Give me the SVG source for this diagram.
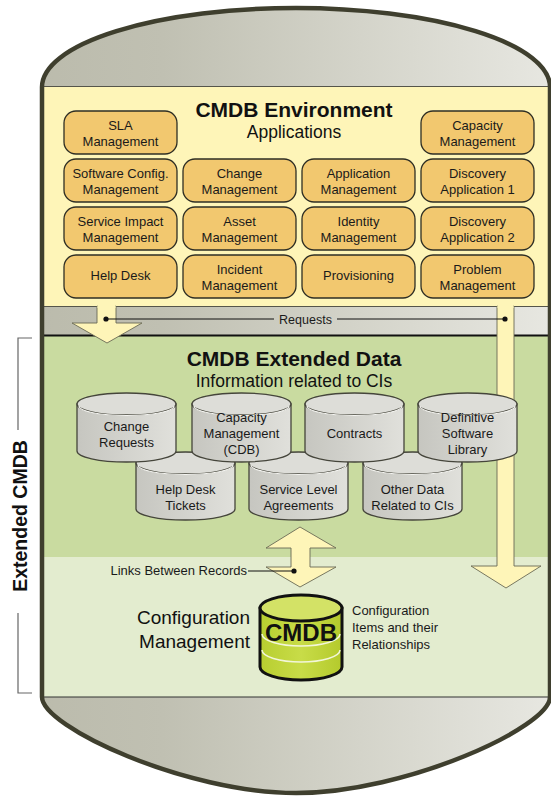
<svg xmlns="http://www.w3.org/2000/svg" width="551" height="796" viewBox="0 0 551 796">
<defs>
<linearGradient id="capg" x1="0" y1="0" x2="1" y2="0">
<stop offset="0" stop-color="#BBBBAC"/><stop offset="0.25" stop-color="#C0C0B2"/><stop offset="1" stop-color="#E8E8E2"/>
</linearGradient>
<linearGradient id="cylg" x1="0" y1="0" x2="1" y2="0">
<stop offset="0" stop-color="#C6C6C0"/><stop offset="1" stop-color="#E0E0DB"/>
</linearGradient>
<linearGradient id="cmdbg" x1="0" y1="0" x2="1" y2="0">
<stop offset="0" stop-color="#B8CE30"/><stop offset="0.5" stop-color="#C8DC48"/><stop offset="1" stop-color="#B4CA2C"/>
</linearGradient>
<clipPath id="outer">
<path d="M42,87 A254,79 0 0 1 550,87 L550,697 C550,727 406,793 296,793 C186,793 42,727 42,697 Z"/>
</clipPath>
<style>
.box{fill:#F2C86F;stroke:#2E2E24;stroke-width:1.3}
.lbl{font-family:"Liberation Sans",Arial,sans-serif;font-size:13px;fill:#1a1a1a;text-anchor:middle}
.cyl{fill:url(#cylg);stroke:#45453B;stroke-width:1.3}
.cyltop{fill:#DDDDD8;stroke:#45453B;stroke-width:1.3}
.rim{fill:none;stroke:#F4F4F0;stroke-width:1.2}
.arrow{fill:#FEF5B8;stroke:#6A6A55;stroke-width:0.9}
.title{font-family:"Liberation Sans",Arial,sans-serif;font-weight:bold;font-size:21px;fill:#111;text-anchor:middle}
.sub{font-family:"Liberation Sans",Arial,sans-serif;font-size:17.5px;fill:#111;text-anchor:middle}
.small{font-family:"Liberation Sans",Arial,sans-serif;font-size:12.5px;fill:#1a1a1a}
</style>
</defs>

<!-- container background sections -->
<g id="container" clip-path="url(#outer)">
<rect x="30" y="0" width="530" height="87" fill="url(#capg)"/>
<rect x="30" y="86" width="530" height="221" fill="#FEF5B8"/>
<rect x="30" y="306" width="530" height="30" fill="url(#capg)"/>
<rect x="30" y="336" width="530" height="221" fill="#C9DBA0"/>
<rect x="30" y="557" width="530" height="140" fill="#E3ECCF"/>
<rect x="30" y="697" width="530" height="110" fill="url(#capg)"/>
<line x1="30" y1="86.5" x2="560" y2="86.5" stroke="#55554A" stroke-width="1"/>
<line x1="30" y1="306.5" x2="560" y2="306.5" stroke="#55554A" stroke-width="1"/>
<line x1="30" y1="335.5" x2="560" y2="335.5" stroke="#111" stroke-width="2"/>
<line x1="30" y1="697" x2="560" y2="697" stroke="#333" stroke-width="1.2"/>
</g>

<!-- applications -->
<g id="title-env">
<text class="title" x="294" y="117">CMDB Environment</text>
<text class="sub" x="294" y="138">Applications</text>
</g>
<g id="app-sla"><rect class="box" x="64" y="111" width="113" height="43" rx="12"/><text class="lbl" x="120.5" y="130">SLA</text><text class="lbl" x="120.5" y="146">Management</text></g>
<g id="app-capacity"><rect class="box" x="421" y="111" width="113" height="43" rx="12"/><text class="lbl" x="477.5" y="130">Capacity</text><text class="lbl" x="477.5" y="146">Management</text></g>
<g id="app-swconfig"><rect class="box" x="64" y="159" width="113" height="43" rx="12"/><text class="lbl" x="120.5" y="178">Software Config.</text><text class="lbl" x="120.5" y="194">Management</text></g>
<g id="app-change"><rect class="box" x="183" y="159" width="113" height="43" rx="12"/><text class="lbl" x="239.5" y="178">Change</text><text class="lbl" x="239.5" y="194">Management</text></g>
<g id="app-application"><rect class="box" x="302" y="159" width="113" height="43" rx="12"/><text class="lbl" x="358.5" y="178">Application</text><text class="lbl" x="358.5" y="194">Management</text></g>
<g id="app-discovery1"><rect class="box" x="421" y="159" width="113" height="43" rx="12"/><text class="lbl" x="477.5" y="178">Discovery</text><text class="lbl" x="477.5" y="194">Application 1</text></g>
<g id="app-serviceimpact"><rect class="box" x="64" y="207" width="113" height="43" rx="12"/><text class="lbl" x="120.5" y="226">Service Impact</text><text class="lbl" x="120.5" y="242">Management</text></g>
<g id="app-asset"><rect class="box" x="183" y="207" width="113" height="43" rx="12"/><text class="lbl" x="239.5" y="226">Asset</text><text class="lbl" x="239.5" y="242">Management</text></g>
<g id="app-identity"><rect class="box" x="302" y="207" width="113" height="43" rx="12"/><text class="lbl" x="358.5" y="226">Identity</text><text class="lbl" x="358.5" y="242">Management</text></g>
<g id="app-discovery2"><rect class="box" x="421" y="207" width="113" height="43" rx="12"/><text class="lbl" x="477.5" y="226">Discovery</text><text class="lbl" x="477.5" y="242">Application 2</text></g>
<g id="app-helpdesk"><rect class="box" x="64" y="255" width="113" height="43" rx="12"/><text class="lbl" x="120.5" y="280">Help Desk</text></g>
<g id="app-incident"><rect class="box" x="183" y="255" width="113" height="43" rx="12"/><text class="lbl" x="239.5" y="274">Incident</text><text class="lbl" x="239.5" y="290">Management</text></g>
<g id="app-provisioning"><rect class="box" x="302" y="255" width="113" height="43" rx="12"/><text class="lbl" x="358.5" y="280">Provisioning</text></g>
<g id="app-problem"><rect class="box" x="421" y="255" width="113" height="43" rx="12"/><text class="lbl" x="477.5" y="274">Problem</text><text class="lbl" x="477.5" y="290">Management</text></g>

<!-- connectors -->
<g id="connectors">
<polygon class="arrow" points="97,306 116,306 116,323 142,323 107,343 72,323 97,323"/>
<polygon class="arrow" points="497,306 514,306 514,566 541,566 506,588 471,566 497,566"/>
<rect x="97.5" y="300" width="18" height="8" fill="#FEF5B8"/>
<rect x="497.5" y="300" width="16" height="8" fill="#FEF5B8"/>
<line x1="106" y1="319" x2="274" y2="319" stroke="#111" stroke-width="1"/>
<line x1="337" y1="319" x2="505" y2="319" stroke="#111" stroke-width="1"/>
<circle cx="106" cy="319" r="2.6" fill="#111"/>
<circle cx="505" cy="319" r="2.6" fill="#111"/>
<text class="small" x="305.5" y="324" text-anchor="middle">Requests</text>
<polygon class="arrow" points="300,527 336,548 310,548 310,567 336,567 300,587 266,567 291,567 291,548 266,548"/>
<line x1="248" y1="571" x2="294" y2="571" stroke="#111" stroke-width="1"/>
<circle cx="294" cy="571" r="2.6" fill="#111"/>
<text class="small" x="247" y="575" text-anchor="end" style="font-size:13px">Links Between Records</text>
</g>

<g id="title-ext">
<text class="title" x="294" y="366">CMDB Extended Data</text>
<text class="sub" x="294" y="387">Information related to CIs</text>
</g>

<!-- bottom row cylinders -->
<g id="db-helpdesk">
<path class="cyl" d="M136,463 L136,509 A49.5,11 0 0 0 235,509 L235,463 Z"/>
<ellipse class="cyltop" cx="185.5" cy="463" rx="49.5" ry="11"/>
<path class="rim" d="M138,465 A47.5,9.5 0 0 0 233,465"/>
<text class="lbl" x="185.5" y="494">Help Desk</text><text class="lbl" x="185.5" y="510">Tickets</text>
</g>
<g id="db-sla">
<path class="cyl" d="M249,463 L249,509 A49.5,11 0 0 0 348,509 L348,463 Z"/>
<ellipse class="cyltop" cx="298.5" cy="463" rx="49.5" ry="11"/>
<path class="rim" d="M251,465 A47.5,9.5 0 0 0 346,465"/>
<text class="lbl" x="298.5" y="494">Service Level</text><text class="lbl" x="298.5" y="510">Agreements</text>
</g>
<g id="db-other">
<path class="cyl" d="M363,463 L363,509 A49.5,11 0 0 0 462,509 L462,463 Z"/>
<ellipse class="cyltop" cx="412.5" cy="463" rx="49.5" ry="11"/>
<path class="rim" d="M365,465 A47.5,9.5 0 0 0 460,465"/>
<text class="lbl" x="412.5" y="494">Other Data</text><text class="lbl" x="412.5" y="510">Related to CIs</text>
</g>
<!-- top row cylinders -->
<g id="db-change">
<path class="cyl" d="M77,404 L77,451 A49.5,11 0 0 0 176,451 L176,404 Z"/>
<ellipse class="cyltop" cx="126.5" cy="404" rx="49.5" ry="11"/>
<path class="rim" d="M79,406 A47.5,9.5 0 0 0 174,406"/>
<text class="lbl" x="126.5" y="431">Change</text><text class="lbl" x="126.5" y="447">Requests</text>
</g>
<g id="db-capacity">
<path class="cyl" d="M192,404 L192,451 A49.5,11 0 0 0 291,451 L291,404 Z"/>
<ellipse class="cyltop" cx="241.5" cy="404" rx="49.5" ry="11"/>
<path class="rim" d="M194,406 A47.5,9.5 0 0 0 289,406"/>
<text class="lbl" x="241.5" y="422">Capacity</text><text class="lbl" x="241.5" y="438">Management</text><text class="lbl" x="241.5" y="454">(CDB)</text>
</g>
<g id="db-contracts">
<path class="cyl" d="M305,404 L305,451 A49.5,11 0 0 0 404,451 L404,404 Z"/>
<ellipse class="cyltop" cx="354.5" cy="404" rx="49.5" ry="11"/>
<path class="rim" d="M307,406 A47.5,9.5 0 0 0 402,406"/>
<text class="lbl" x="354.5" y="438">Contracts</text>
</g>
<g id="db-dsl">
<path class="cyl" d="M418,404 L418,451 A49.5,11 0 0 0 517,451 L517,404 Z"/>
<ellipse class="cyltop" cx="467.5" cy="404" rx="49.5" ry="11"/>
<path class="rim" d="M420,406 A47.5,9.5 0 0 0 515,406"/>
<text class="lbl" x="467.5" y="422">Definitive</text><text class="lbl" x="467.5" y="438">Software</text><text class="lbl" x="467.5" y="454">Library</text>
</g>

<!-- CMDB -->
<g id="cmdb">
<path d="M260,608 L260,667 A41,13 0 0 0 342,667 L342,608 Z" fill="url(#cmdbg)" stroke="#111" stroke-width="3"/>
<ellipse cx="301" cy="608" rx="41" ry="13" fill="#D3E266" stroke="#111" stroke-width="3"/>
<path d="M262,634 A39,12 0 0 0 340,634" fill="none" stroke="#F2F6D8" stroke-width="1.5"/>
<path d="M262,650 A39,12 0 0 0 340,650" fill="none" stroke="#F2F6D8" stroke-width="1.5"/>
<text x="301" y="641" text-anchor="middle" style="font-family:'Liberation Sans',Arial,sans-serif;font-weight:bold;font-size:24px;fill:#111">CMDB</text>
</g>
<g id="config-mgmt">
<text x="250" y="624" text-anchor="end" style="font-family:'Liberation Sans',Arial,sans-serif;font-size:19px;fill:#111">Configuration</text>
<text x="250" y="648" text-anchor="end" style="font-family:'Liberation Sans',Arial,sans-serif;font-size:19px;fill:#111">Management</text>
</g>
<g id="config-items">
<text class="small" x="352" y="615" style="font-size:13px">Configuration</text>
<text class="small" x="352" y="632" style="font-size:13px">Items and their</text>
<text class="small" x="352" y="649" style="font-size:13px">Relationships</text>
</g>

<!-- outer outline -->
<path d="M42,87 A254,79 0 0 1 550,87 L550,697 C550,727 406,793 296,793 C186,793 42,727 42,697 Z" fill="none" stroke="#3F3F2E" stroke-width="4.5"/>

<!-- Extended CMDB bracket -->
<g id="extended-cmdb">
<path d="M32,338 L18,338 L18,430 M18,613 L18,693 L32,693" fill="none" stroke="#666" stroke-width="1.2"/>
<text transform="translate(27,516) rotate(-90)" text-anchor="middle" style="font-family:'Liberation Sans',Arial,sans-serif;font-weight:bold;font-size:19.5px;fill:#111">Extended CMDB</text>
</g>
</svg>
